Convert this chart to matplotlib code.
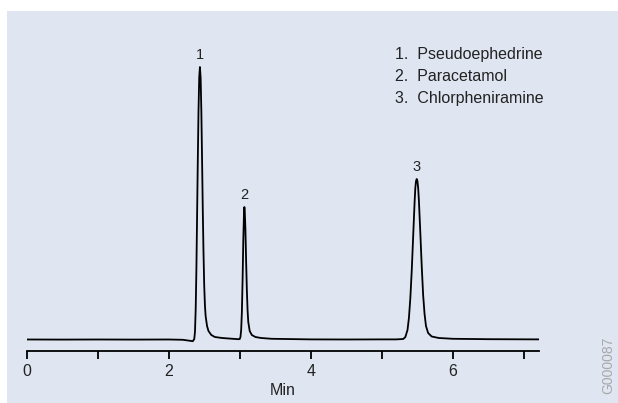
import matplotlib
matplotlib.use("Agg")
import matplotlib.pyplot as plt
from matplotlib.patches import Rectangle

plt.rcParams["font.family"] = ["Liberation Sans", "DejaVu Sans"]

# 크로마토그램 데이터 (분, 신호) - 그림에서 읽은 값
times = [0.00, 0.50, 1.00, 1.50, 2.00, 2.20, 2.30, 2.34, 2.36, 2.37, 2.38, 2.39,
         2.40, 2.41, 2.42, 2.43, 2.44, 2.45, 2.46, 2.47, 2.48, 2.49, 2.50, 2.51,
         2.52, 2.54, 2.56, 2.60, 2.65, 2.75, 2.90, 2.98,
         3.00, 3.01, 3.02, 3.03, 3.04, 3.05, 3.06, 3.065, 3.07, 3.08, 3.09, 3.10,
         3.11, 3.12, 3.14, 3.17, 3.22, 3.30, 3.45, 4.00, 4.50, 5.00, 5.20,
         5.30, 5.33, 5.36, 5.38, 5.40, 5.42, 5.44, 5.46, 5.47, 5.48, 5.49, 5.50,
         5.51, 5.52, 5.54, 5.56, 5.58, 5.60, 5.62, 5.65, 5.70, 5.80, 6.00, 6.50,
         7.21]
signal = [0.5, 0.4, 0.5, 0.4, 0.5, 0.2, -0.8, -1.2, 1, 8, 30, 70,
          125, 180, 230, 263, 273, 262, 228, 180, 130, 88, 55, 35,
          24, 14, 9, 5, 3, 2, 1.2, 0.8,
          1, 3, 10, 28, 60, 100, 128, 133, 130, 110, 78, 50,
          30, 18, 9, 5, 3, 2, 1.2, 0.6, 0.5, 0.6, 0.6,
          1, 3, 10, 22, 42, 70, 104, 138, 152, 159, 161, 159,
          152, 140, 108, 74, 45, 26, 14, 7, 3.5, 2, 1.2, 0.8,
          0.6]

# 피크 번호 위치
peak_ids = ["1", "2", "3"]
peak_times = [2.44, 3.063, 5.488]
peak_heights = [273, 133, 161]

compounds = ["Pseudoephedrine", "Paracetamol", "Chlorpheniramine"]

fig = plt.figure(figsize=(6.18, 4.03), dpi=100)
fig.patch.set_facecolor("white")
bg = Rectangle((7 / 618, 0), 1 - 7 / 618, 1 - 11 / 403,
               transform=fig.transFigure, facecolor="#dfe6f2",
               edgecolor="none", zorder=-10)
fig.add_artist(bg)

ax = fig.add_axes([26.5 / 618, 0.1298, 512.5 / 618, 0.7709])
ax.patch.set_alpha(0)
ax.plot(times, signal, color="black", linewidth=1.3)

for pid, t, h in zip(peak_ids, peak_times, peak_heights):
    ax.text(t, h + 5, pid, ha="center", va="bottom", fontsize=10.5, color="#222222")

# 범례 텍스트
for i, name in enumerate(compounds):
    fig.text(395 / 618, 1 - (55 + i * 21.5) / 403, f"{i + 1}.  {name}",
             ha="left", va="center", fontsize=11.5, color="#222222")

ax.set_xlim(0, 7.21)
ax.set_ylim(-10.7, 300)
for s in ["top", "right", "left"]:
    ax.spines[s].set_visible(False)
ax.spines["bottom"].set_linewidth(1.3)
ax.set_yticks([])
ax.set_xticks([0, 1, 2, 3, 4, 5, 6, 7])
ax.set_xticklabels(["0", "", "2", "", "4", "", "6", ""])
ax.tick_params(axis="x", direction="out", length=6, width=1.3, labelsize=11.5,
               pad=3.5, labelcolor="#222222")
ax.set_xlabel("Min", fontsize=11.5, color="#222222", labelpad=3)

fig.text(608 / 618, 1 - 365 / 403, "G000087", rotation=90, ha="center",
         va="center", fontsize=10, color="#a8a8a8")

fig.savefig("out.png", dpi=100)
